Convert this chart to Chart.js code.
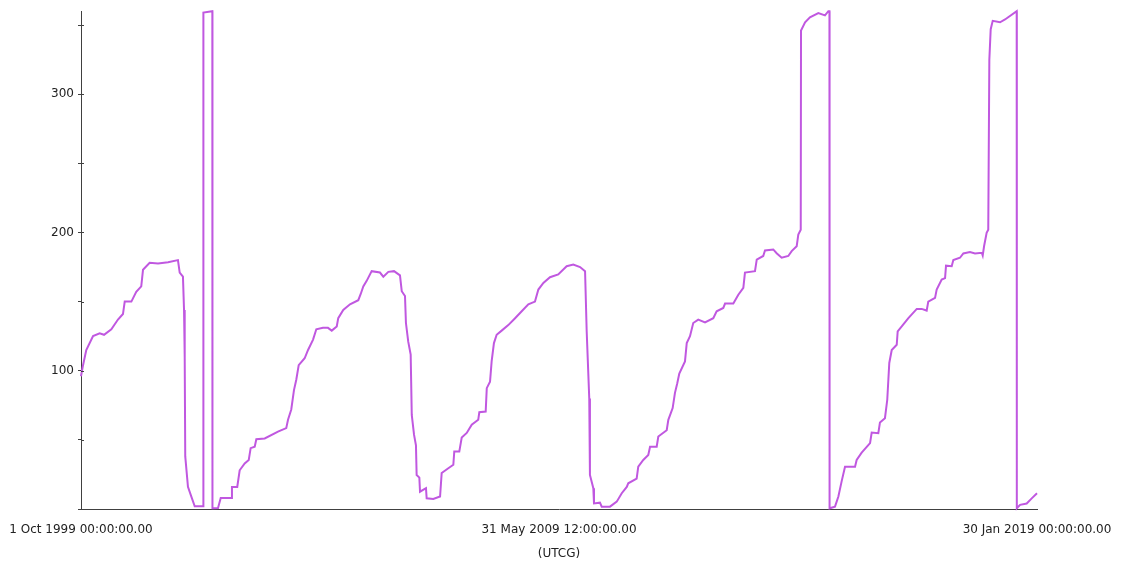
<!DOCTYPE html>
<html>
<head>
<meta charset="utf-8">
<title>Angle vs time</title>
<script src="https://cdn.jsdelivr.net/npm/chart.js@4.4.0/dist/chart.umd.min.js"></script>
<style>
    html, body { margin: 0; padding: 0; background: #ffffff; }
    #chart_box { width: 1122px; height: 567px; position: relative; }
</style>
</head>
<body>
<div id="chart_box"><canvas id="angle_chart"></canvas></div>
<script>
// days since 1 Oct 1999 00:00 UTCG
const day_offsets = [0, 15, 39, 89, 138, 170, 224, 273, 310, 323, 372, 408, 445, 458, 507, 569, 643, 716, 729, 753,
    761, 766, 770, 790, 815, 840, 903, 904, 970, 971, 975, 1012, 1032, 1110, 1115, 1154, 1172, 1209, 1239, 1253,
    1283, 1295, 1357, 1455, 1516, 1529, 1553, 1573, 1590, 1608, 1652, 1677, 1714, 1738, 1787, 1824, 1852, 1889, 1900, 1937,
    1987, 2048, 2066, 2085, 2110, 2147, 2208, 2233, 2270, 2312, 2356, 2369, 2393, 2400, 2417, 2435, 2443, 2460, 2474, 2479,
    2499, 2504, 2548, 2553, 2602, 2652, 2664, 2713, 2750, 2757, 2794, 2812, 2849, 2886, 2934, 2942, 2989, 2997, 3021, 3033,
    3050, 3070, 3107, 3156, 3206, 3255, 3304, 3353, 3378, 3415, 3464, 3525, 3587, 3636, 3686, 3723, 3735, 3754, 3759, 3784,
    3789, 3833, 3846, 3907, 3957, 3994, 4031, 4042, 4104, 4116, 4153, 4190, 4203, 4252, 4264, 4326, 4338, 4370, 4387, 4404,
    4419, 4461, 4474, 4498, 4522, 4559, 4609, 4670, 4695, 4744, 4757, 4818, 4855, 4892, 4904, 4978, 4991, 5039, 5052, 5113,
    5138, 5175, 5224, 5249, 5286, 5298, 5316, 5318, 5348, 5384, 5446, 5495, 5520, 5528, 5529, 5569, 5594, 5618, 5643, 5717,
    5729, 5766, 5828, 5840, 5889, 5901, 5938, 5955, 5970, 5988, 6025, 6032, 6062, 6111, 6173, 6209, 6246, 6258, 6308, 6320,
    6357, 6382, 6389, 6431, 6443, 6492, 6517, 6566, 6603, 6653, 6660, 6670, 6689, 6701, 6709, 6719, 6734, 6788, 6825, 6911,
    6912, 6936, 6985, 7022, 7061];

// angle (deg)
const angle_values = [96, 104, 115, 125, 127, 126, 130, 137, 141, 150, 150, 157, 161, 173, 178, 177.5, 178.5, 180, 171, 168,
    144, 110, 38, 16, 9, 2, 2, 359, 360, 0.5, 0.5, 0.7, 8, 8, 16, 16, 28, 33, 35.5, 44,
    45, 50.5, 51, 56, 58.5, 64.5, 72, 86, 93.5, 104, 109, 115, 122.5, 130, 131, 131, 129, 132, 138, 144,
    148, 151, 155.5, 161, 165, 172, 171, 168, 171.5, 172, 169, 157.5, 154, 134.5, 121, 111.6, 68, 53.6, 46, 24.6,
    22.7, 12.5, 15, 7.7, 7.2, 9, 26, 29.5, 32, 41.5, 41.5, 51.7, 55, 61, 64.5, 70, 70.5, 87.4, 92, 106.7,
    120, 126, 129, 133, 138, 143, 148, 150, 158.7, 163.5, 167.6, 169.6, 175.6, 176.8, 175, 172, 128.5, 80, 24.6, 15,
    4, 4.6, 1.7, 1.7, 5.3, 11.4, 16, 18.6, 22, 30.6, 35.5, 39, 45, 45, 52.4, 57, 64.5, 73, 84, 91,
    98, 106.7, 120, 125, 134.5, 137, 135, 138, 143, 145.4, 148.6, 148.6, 155, 160, 171, 172, 180.4, 183, 187, 187.7,
    185, 181.7, 183, 186.5, 190, 198.5, 202, 346, 352, 355.6, 358.7, 357, 360, 360, 0.5, 1.7, 9, 20, 30.6, 30.6,
    35.5, 40.8, 47.6, 55.3, 54.8, 62.5, 65.7, 79, 105.6, 115, 118.8, 128.5, 132, 138, 144.7, 144.7, 143.5, 150, 152.7, 158.7,
    166, 167, 176, 175.6, 180, 181.7, 184.8, 185.8, 184.8, 185.3, 183.3, 190, 199.8, 202, 325, 347, 353, 352, 354, 360,
    0.5, 3, 4, 7.7, 11.4];

const x_tick_days = [0, 3530.5, 7061];
const y_label_values = [100, 200, 300];
const y_tick_step = 50;
const y_max = 360;
const start_ms = Date.UTC(1999, 9, 1, 0, 0, 0);

const month_names = ["Jan", "Feb", "Mar", "Apr", "May", "Jun", "Jul", "Aug", "Sep", "Oct", "Nov", "Dec"];
function pad2(n) { return (n < 10 ? "0" : "") + n; }
function format_utcg(days) {
    const d = new Date(start_ms + days * 86400000);
    return d.getUTCDate() + " " + month_names[d.getUTCMonth()] + " " + d.getUTCFullYear() + " " +
        pad2(d.getUTCHours()) + ":" + pad2(d.getUTCMinutes()) + ":" + pad2(d.getUTCSeconds()) + ".00";
}

const points = day_offsets.map((d, i) => ({x: d, y: angle_values[i]}));
const axis_color = "#404040";
const font_def = {family: "'DejaVu Sans', Verdana, sans-serif", size: 12};

// small ticks crossing the y axis into the plot
const cross_ticks = {
    id: "cross_ticks",
    afterDraw(chart) {
        const ys = chart.scales.y;
        const ctx = chart.ctx;
        ctx.save();
        ctx.strokeStyle = axis_color;
        ctx.lineWidth = 1;
        ys.ticks.forEach((t) => {
            if (t.value === 0) return;
            const py = Math.round(ys.getPixelForValue(t.value)) + 0.5;
            ctx.beginPath();
            ctx.moveTo(ys.right, py);
            ctx.lineTo(ys.right + 3, py);
            ctx.stroke();
        });
        ctx.restore();
    }
};

const chart = new Chart(document.getElementById("angle_chart").getContext("2d"), {
    type: "scatter",
    data: {
        datasets: [{
            data: points,
            showLine: true,
            borderColor: "#c058e0",
            backgroundColor: "#c058e0",
            borderWidth: 2,
            pointRadius: 0,
            tension: 0,
            clip: false
        }]
    },
    options: {
        responsive: true,
        maintainAspectRatio: false,
        animation: false,
        layout: {padding: {left: 0, right: 85, top: 11, bottom: 0}},
        plugins: {legend: {display: false}, tooltip: {enabled: false}},
        scales: {
            x: {
                type: "linear",
                min: 0,
                max: 7061,
                afterBuildTicks: (scale) => { scale.ticks = x_tick_days.map((v) => ({value: v})); },
                afterFit: (scale) => {
                    scale.height = 58;
                    // labels overhang is already covered by the layout padding
                    scale.paddingLeft = 0;
                    scale.paddingRight = 0;
                },
                grid: {display: false, drawTicks: false},
                border: {display: true, color: axis_color, width: 1},
                ticks: {
                    autoSkip: false,
                    maxRotation: 0,
                    padding: 14,
                    color: "#222",
                    font: font_def,
                    callback: (v) => format_utcg(v)
                },
                title: {display: true, text: "(UTCG)", color: "#222", font: font_def, padding: {top: 2, bottom: 6}}
            },
            y: {
                min: 0,
                max: y_max,
                afterBuildTicks: (scale) => {
                    const t = [];
                    for (let v = 0; v <= y_max; v += y_tick_step) t.push({value: v});
                    scale.ticks = t;
                },
                afterFit: (scale) => { scale.width = 81; },
                grid: {drawOnChartArea: false, drawTicks: true, tickLength: 3, color: axis_color},
                border: {display: true, color: axis_color, width: 1},
                ticks: {
                    padding: 4,
                    color: "#222",
                    font: font_def,
                    callback: (v) => (y_label_values.includes(v) ? String(v) : "")
                }
            }
        }
    },
    plugins: [cross_ticks]
});
</script>
</body>
</html>
